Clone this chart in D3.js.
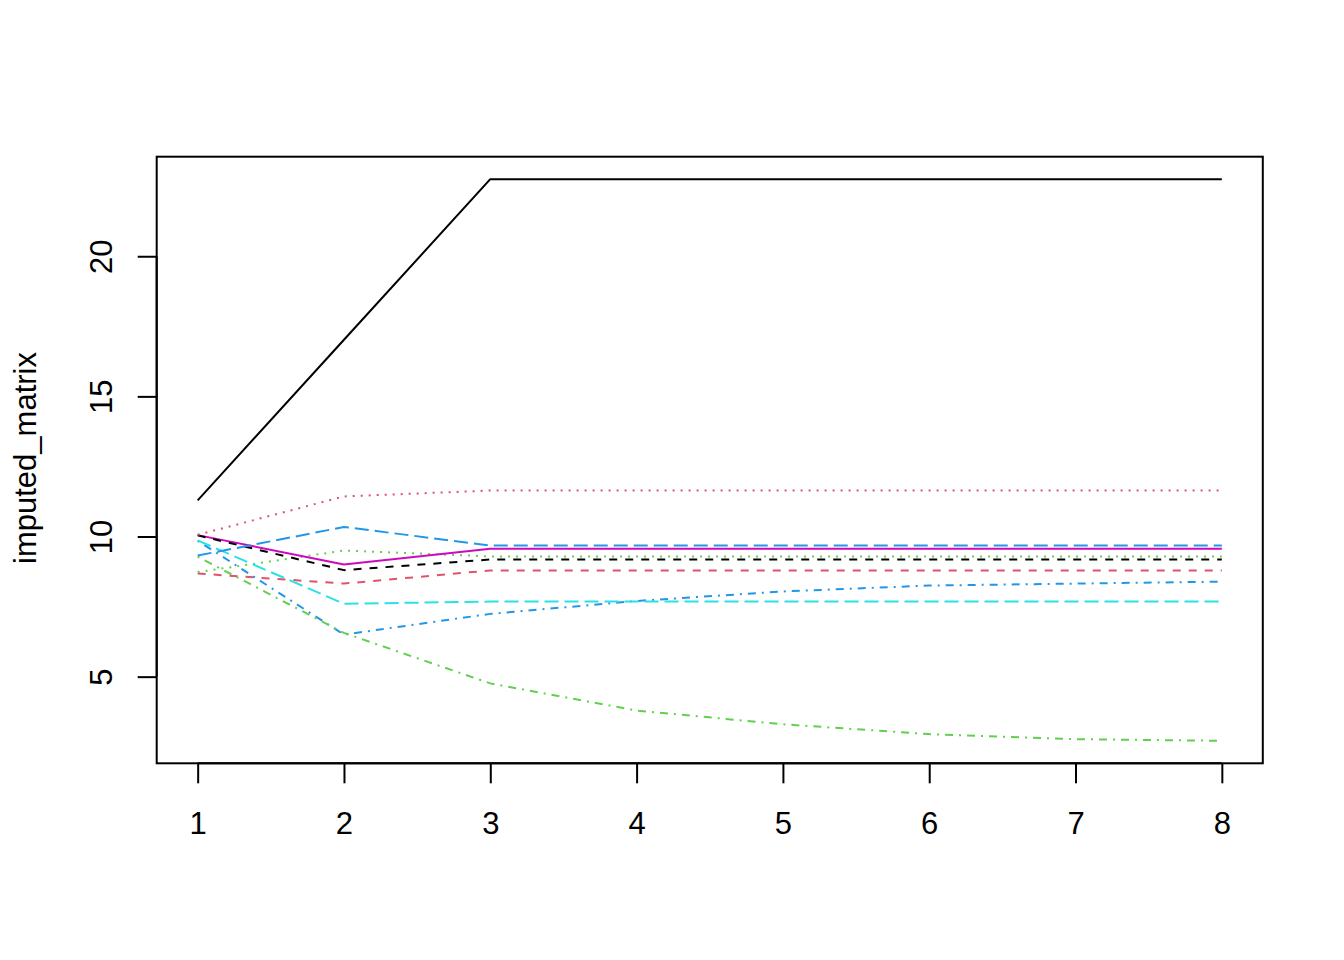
<!DOCTYPE html>
<html>
<head>
<meta charset="utf-8">
<script src="https://cdn.jsdelivr.net/npm/d3@7"></script>
<style>
  html, body { margin: 0; padding: 0; background: #ffffff; }
  svg text { font-family: "Liberation Sans", Arial, sans-serif; fill: #000; }
</style>
</head>
<body>
<svg id="chart" width="1344" height="960"></svg>
<script>
// ---- data ----
const iterations = [1, 2, 3, 4, 5, 6, 7, 8];
const xTickLabels = ["1", "2", "3", "4", "5", "6", "7", "8"];
const yTickValues = [5, 10, 15, 20];
const yAxisTitle = "imputed_matrix";

const col1  = [11.29, 17.02, 22.75, 22.75, 22.75, 22.75, 22.75, 22.75];
const col2  = [8.68, 8.32, 8.79, 8.79, 8.79, 8.79, 8.79, 8.79];
const col3  = [8.73, 9.50, 9.29, 9.29, 9.29, 9.29, 9.29, 9.29];
const col4  = [9.85, 6.50, 7.24, 7.70, 8.04, 8.25, 8.32, 8.39];
const col5  = [9.86, 7.60, 7.68, 7.68, 7.68, 7.68, 7.68, 7.68];
const col6  = [10.05, 9.00, 9.56, 9.56, 9.56, 9.56, 9.56, 9.56];
const col7  = [10.04, 8.80, 9.18, 9.18, 9.18, 9.18, 9.18, 9.18];
const col8  = [10.06, 11.43, 11.64, 11.64, 11.64, 11.64, 11.64, 11.64];
const col9  = [9.28, 6.56, 4.76, 3.79, 3.30, 2.95, 2.77, 2.71];
const col10 = [9.32, 10.34, 9.68, 9.68, 9.68, 9.68, 9.68, 9.68];

const seriesList = [col1, col2, col3, col4, col5, col6, col7, col8, col9, col10];

// R default palette (col = 1:6) and line types (lty = 1:5), recycled
const palette = ["#000000", "#DF536B", "#61D04F", "#2297E6", "#28E2E5", "#CD0BBC"];
const ltys = [null, "8,8", "2,6", "2,6,8,6", "14,6"];

// ---- layout ----
const plotLeft = 156.7, plotRight = 1262.8, plotTop = 156.7, plotBottom = 763.3;
const fontSize = 31;

const svg = d3.select("#chart");

const xMin = d3.min(iterations), xMax = d3.max(iterations);
const xPad = (xMax - xMin) * 0.04;
const x = d3.scaleLinear().domain([xMin - xPad, xMax + xPad]).range([plotLeft, plotRight]);

const allVals = seriesList.flat();
const yMin = d3.min(allVals), yMax = d3.max(allVals);
const yPad = (yMax - yMin) * 0.04;
const y = d3.scaleLinear().domain([yMin - yPad, yMax + yPad]).range([plotBottom, plotTop]);

// ---- series ----
const line = d3.line().x((d, i) => x(iterations[i])).y(d => y(d));
const g = svg.append("g");
seriesList.forEach((s, i) => {
  const p = g.append("path")
    .datum(s)
    .attr("d", line)
    .attr("fill", "none")
    .attr("stroke", palette[i % palette.length])
    .attr("stroke-width", 2)
    .attr("stroke-linejoin", "round")
    .attr("stroke-linecap", "butt");
  const da = ltys[i % ltys.length];
  if (da) p.attr("stroke-dasharray", da);
});

// ---- box ----
svg.append("rect")
  .attr("x", plotLeft).attr("y", plotTop)
  .attr("width", plotRight - plotLeft).attr("height", plotBottom - plotTop)
  .attr("fill", "none").attr("stroke", "#000").attr("stroke-width", 2);

// ---- x axis ----
const xAxis = d3.axisBottom(x)
  .tickValues(iterations)
  .tickFormat((d, i) => xTickLabels[i])
  .tickSize(20)
  .tickPadding(29);
const gx = svg.append("g").attr("transform", `translate(0,${plotBottom})`).call(xAxis);
gx.select(".domain")
  .attr("d", `M${x(xMin)},0H${x(xMax)}`)
  .attr("stroke", "#000").attr("stroke-width", 2);
gx.selectAll(".tick line").attr("stroke", "#000").attr("stroke-width", 2);
gx.selectAll(".tick text")
  .attr("font-size", fontSize)
  .attr("font-family", "'Liberation Sans', Arial, sans-serif")
  .attr("fill", "#000");

// ---- y axis ----
const yAxis = d3.axisLeft(y)
  .tickValues(yTickValues)
  .tickFormat(d3.format("d"))
  .tickSize(19);
const gy = svg.append("g").attr("transform", `translate(${plotLeft},0)`).call(yAxis);
gy.select(".domain")
  .attr("d", `M0,${y(d3.min(yTickValues))}V${y(d3.max(yTickValues))}`)
  .attr("stroke", "#000").attr("stroke-width", 2);
gy.selectAll(".tick line").attr("stroke", "#000").attr("stroke-width", 2);
gy.selectAll(".tick text")
  .attr("font-size", fontSize)
  .attr("font-family", "'Liberation Sans', Arial, sans-serif")
  .attr("fill", "#000")
  .attr("x", null).attr("dy", null)
  .attr("text-anchor", "middle")
  .attr("transform", `translate(${112 - plotLeft},0) rotate(-90)`);

// ---- y axis title ----
svg.append("text")
  .attr("transform", `translate(36,${(plotTop + plotBottom) / 2 - 2}) rotate(-90)`)
  .attr("text-anchor", "middle")
  .attr("font-size", fontSize)
  .text(yAxisTitle);
</script>
</body>
</html>
